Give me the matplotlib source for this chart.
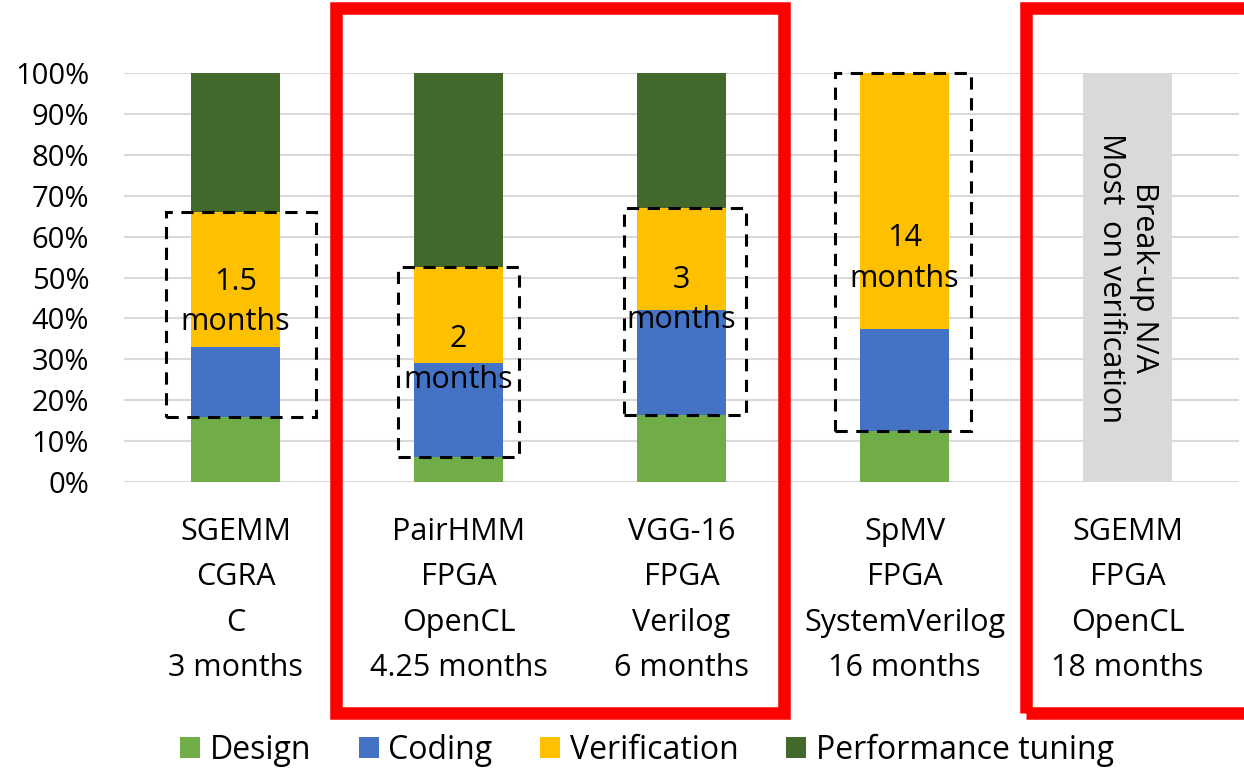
import numpy as np
import matplotlib
matplotlib.use('Agg')
import matplotlib.pyplot as plt
from matplotlib.patches import Rectangle

plt.rcParams['font.family'] = ['Open Sans', 'DejaVu Sans']

# effort break-up per project (fraction of total time)
projects = ['SGEMM\nCGRA\nC\n3 months',
            'PairHMM\nFPGA\nOpenCL\n4.25 months',
            'VGG-16\nFPGA\nVerilog\n6 months',
            'SpMV\nFPGA\nSystemVerilog\n16 months',
            'SGEMM\nFPGA\nOpenCL\n18 months']
design       = [0.16, 0.06, 0.165, 0.125, 0.0]
coding       = [0.17, 0.23, 0.255, 0.25, 0.0]
verification = [0.33, 0.235, 0.25, 0.625, 0.0]
tuning       = [0.34, 0.475, 0.33, 0.0, 0.0]
unknown      = [0.0, 0.0, 0.0, 0.0, 1.0]
# coding + verification time, written inside the dashed boxes
cv_labels = ['1.5\nmonths', '2\nmonths', '3\nmonths', '14\nmonths']

names  = ['Design', 'Coding', 'Verification', 'Performance tuning']
colors = ['#70AD47', '#4472C4', '#FFC000', '#43682B']

# box edges (left, right offset from bar centre) and label height
box_x   = [(-0.31, 0.36), (-0.27, 0.27), (-0.26, 0.29), (-0.31, 0.30)]
label_y = [0.44, 0.30, 0.445, 0.547]

fig = plt.figure(figsize=(12.44, 7.70), dpi=100)
ax = fig.add_axes([0.0997, 0.374, 0.8963, 0.531])

x = np.arange(len(projects))
w = 0.4
bottom = np.zeros(len(projects))
for vals, name, c in zip([design, coding, verification, tuning], names, colors):
    ax.bar(x, vals, w, bottom=bottom, color=c, label=name, zorder=2)
    bottom += np.array(vals)
ax.bar(x, unknown, w, color='#D9D9D9', zorder=2)

# dashed box around coding + verification
for i in range(4):
    lo = design[i]
    hi = design[i] + coding[i] + verification[i]
    l, r = box_x[i]
    ax.add_patch(Rectangle((x[i] + l, lo), r - l, hi - lo, fill=False,
                           ec='black', lw=2.2, ls=(0, (4, 2.8)), zorder=3,
                           clip_on=False))
    ax.text(x[i], label_y[i], cv_labels[i], ha='center', va='center',
            fontsize=22, linespacing=1.45, zorder=4)

ax.text(x[4], 0.5, 'Break-up N/A\nMost  on verification', rotation=-90,
        ha='center', va='center', fontsize=22, linespacing=1.15, zorder=4)

ax.set_xlim(-0.5, 4.5)
ax.set_ylim(0, 1)
ax.set_yticks(np.arange(0, 1.01, 0.1))
ax.set_yticklabels(['%d%%' % v for v in range(0, 101, 10)], fontsize=21)
ax.set_xticks(x)
ax.set_xticklabels(projects, fontsize=22, linespacing=1.67, va='top')
ax.tick_params(axis='both', length=0)
ax.tick_params(axis='x', pad=25)
ax.tick_params(axis='y', pad=25)
ax.grid(axis='y', color='#D9D9D9', lw=1.5, zorder=0)
for s in ax.spines.values():
    s.set_visible(False)

fig.legend(loc='center', bbox_to_anchor=(0.52, 0.026), ncol=4, frameon=False,
           fontsize=23, handlelength=0.62, handleheight=0.62, handletextpad=0.3,
           columnspacing=1.5)

# red highlight frames
fig.patches.append(Rectangle((336 / 1244, 1 - 713 / 770), 448 / 1244, 705 / 770,
                             fill=False, ec='#FF0000', lw=9, transform=fig.transFigure))
fig.patches.append(Rectangle((1026 / 1244, 1 - 713 / 770), 260 / 1244, 705 / 770,
                             fill=False, ec='#FF0000', lw=9, transform=fig.transFigure))

fig.savefig('out.png', dpi=100)
